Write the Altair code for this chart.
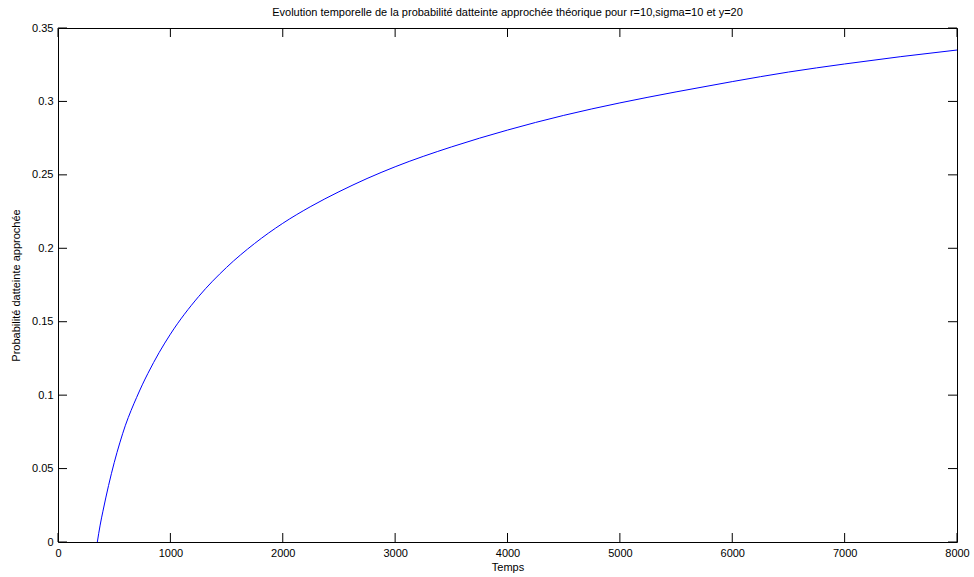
import altair as alt
import pandas as pd

# curve
temps = [350, 375, 400, 450, 500, 550, 600, 650, 700, 750, 800, 900, 1000, 1250, 1500, 1750,
         2000, 2250, 2500, 2750, 3000, 3500, 4000, 4500, 5000, 5500, 6000, 6500, 7000, 7500, 8000]
proba = [0.0, 0.0115, 0.021, 0.0385, 0.054, 0.0675, 0.0795, 0.0895, 0.0985, 0.107, 0.1148,
         0.129, 0.1415, 0.167, 0.187, 0.2033, 0.2170, 0.2285, 0.2385, 0.2475, 0.2555,
         0.2690, 0.2805, 0.2905, 0.2990, 0.3065, 0.3135, 0.3200, 0.3255, 0.3305, 0.3350]

x_ticks = [0, 1000, 2000, 3000, 4000, 5000, 6000, 7000, 8000]
y_ticks = [0, 0.05, 0.1, 0.15, 0.2, 0.25, 0.3, 0.35]

W, H = 899, 514
TL = 9
FONT = "Liberation Sans"

xs = alt.Scale(domain=[0, 8000], nice=False, zero=False)
ys = alt.Scale(domain=[0, 0.35], nice=False, zero=False)

xaxis = alt.Axis(values=x_ticks, format="d", ticks=False, domain=False, grid=False,
                 labelFlush=False, labelPadding=5, titlePadding=3, labelFontSize=11,
                 titleFontSize=11, labelFont=FONT, titleFont=FONT, titleFontWeight="normal",
                 labelColor="#000", titleColor="#000")
yaxis = alt.Axis(values=y_ticks, format="~g", ticks=False, labelFlush=False,
                 domain=False, grid=False, labelPadding=5, titlePadding=10,
                 labelFontSize=11, titleFontSize=11, labelFont=FONT, titleFont=FONT,
                 titleFontWeight="normal", labelColor="#000", titleColor="#000")
XT = "Temps"
YT = "Probabilité datteinte approchée"

df = pd.DataFrame({"t": temps, "p": proba})
dx = pd.DataFrame({"t": x_ticks})
dy = pd.DataFrame({"p": y_ticks})

line = alt.Chart(df).mark_line(color="#0000ff", strokeWidth=1, interpolate="monotone").encode(
    x=alt.X("t:Q", scale=xs, title=XT, axis=xaxis),
    y=alt.Y("p:Q", scale=ys, title=YT, axis=yaxis),
)

tick_style = dict(color="#000", strokeWidth=1)
bottom = alt.Chart(dx).mark_rule(**tick_style).encode(
    x=alt.X("t:Q", scale=xs, title=XT, axis=xaxis), y=alt.value(H), y2=alt.value(H - TL))
top = alt.Chart(dx).mark_rule(**tick_style).encode(
    x=alt.X("t:Q", scale=xs, title=XT, axis=xaxis), y=alt.value(0), y2=alt.value(TL))
left = alt.Chart(dy).mark_rule(**tick_style).encode(
    y=alt.Y("p:Q", scale=ys, title=YT, axis=yaxis), x=alt.value(0), x2=alt.value(TL))
right = alt.Chart(dy).mark_rule(**tick_style).encode(
    y=alt.Y("p:Q", scale=ys, title=YT, axis=yaxis), x=alt.value(W), x2=alt.value(W - TL))

chart = alt.layer(line, bottom, top, left, right).properties(
    width=W, height=H,
    title=alt.TitleParams(
        "Evolution temporelle de la probabilité datteinte approchée théorique pour r=10,sigma=10 et y=20",
        fontSize=11, fontWeight="normal", font=FONT, color="#000", anchor="middle", offset=4),
    autosize=alt.AutoSizeParams(type="none"),
    padding={"left": 58, "top": 28, "right": 17, "bottom": 35},
).configure(background="white").configure_view(stroke="#000", strokeWidth=1)

chart.save("out.html", embed_options={"renderer": "svg", "actions": False})
